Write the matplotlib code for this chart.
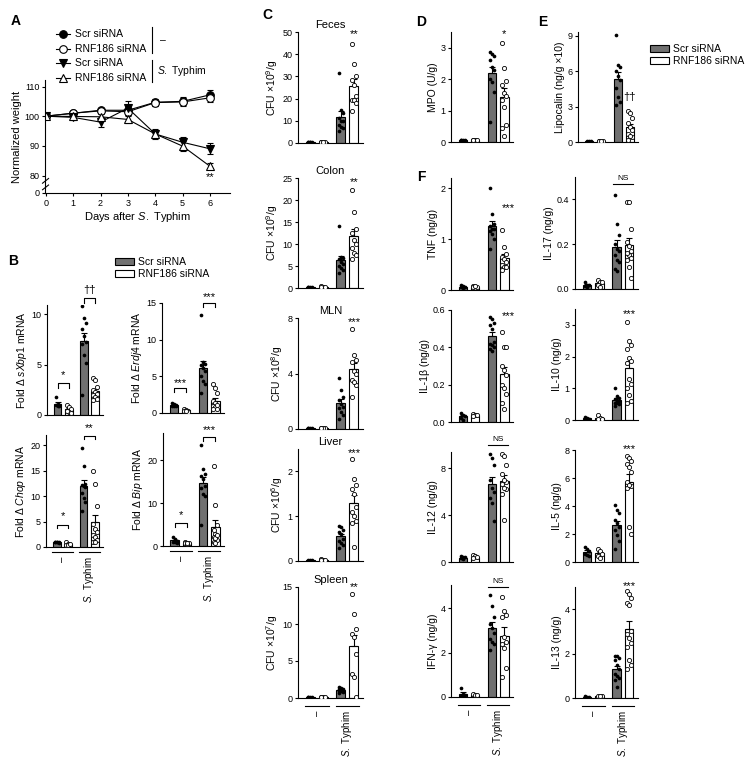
import numpy as np
import matplotlib
matplotlib.use("Agg")
import matplotlib.pyplot as plt
from matplotlib.patches import Patch

plt.rcParams['font.family'] = ['Liberation Sans', 'DejaVu Sans']
plt.rcParams['mathtext.fontset'] = 'custom'
plt.rcParams['mathtext.rm'] = 'Liberation Sans'
plt.rcParams['mathtext.it'] = 'Liberation Sans:italic'
plt.rcParams['font.size'] = 7
plt.rcParams['axes.linewidth'] = 0.8

# ---- panel A: body weight ----
days = [0, 1, 2, 3, 4, 5, 6]
wt_scr_mock = [100, 101, 102, 102, 104.7, 105, 107.2]
wt_rnf_mock = [100, 101, 101.8, 101.5, 104.6, 104.8, 106.2]
wt_scr_st = [100, 99.6, 98, 102.7, 94, 91.2, 89]
wt_rnf_st = [100, 99.9, 99.8, 98.9, 94, 89.9, 83.1]
err_scr_mock = [0, 0.6, 0.7, 1.2, 1.2, 1.3, 1.6]
err_rnf_mock = [0, 0.5, 0.6, 1.0, 1.0, 1.2, 1.3]
err_scr_st = [0, 0.8, 1.7, 2.4, 1.6, 1.8, 1.9]
err_rnf_st = [0, 0.6, 1.0, 1.3, 1.5, 1.6, 1.0]

# ---- panel B: UPR genes (Scr mock, RNF mock, Scr S.Tm, RNF S.Tm) ----
xbp1 = [[1.8, 1.0, 0.9, 1.0, 1.1, 0.9],
        [1.0, 0.8, 0.6, 0.3, 0.2, 0.4],
        [10.8, 9.6, 9.1, 8.5, 7.8, 7.2, 7.0, 5.9, 5.2, 2.0],
        [3.7, 3.5, 2.8, 2.5, 2.3, 2.1, 2.0, 1.8, 1.6, 1.5]]
erdj4 = [[1.3, 1.2, 1.1, 1.0, 1.0, 0.9],
         [0.6, 0.4, 0.3, 0.3, 0.2, 0.3],
         [13.4, 6.9, 6.7, 6.5, 6.2, 5.7, 5.0, 4.3, 3.9, 2.7],
         [3.9, 3.4, 2.7, 1.6, 1.3, 1.0, 0.8, 0.6, 0.5, 1.1]]
chop = [[1.0, 1.0, 0.9, 0.9, 0.8, 1.0],
        [0.9, 0.6, 0.4, 0.3, 0.5],
        [19.5, 15.9, 12.0, 12.4, 11.7, 10.7, 9.7, 8.8, 7.1, 12.2],
        [14.9, 12.3, 8.1, 4.5, 3.6, 3.0, 2.4, 1.9, 1.3, 1.0, 0.9]]
bip = [[2.2, 1.6, 1.2, 1.0, 0.8, 1.0],
       [0.9, 0.7, 0.6, 0.5, 0.8],
       [23.5, 17.9, 16.7, 16.3, 15.5, 13.5, 12.0, 11.6, 4.9, 14.0],
       [18.7, 9.6, 4.9, 3.7, 2.9, 2.1, 1.3, 0.9, 1.8, 2.5, 0.8]]

# ---- panel C: bacterial load ----
feces = [[0.6, 0.5, 0.4, 0.5, 0.6], [0.6, 0.5, 0.5, 0.6],
         [31.6, 15, 13.4, 11.2, 9.7, 8.2, 6.7, 5.2, 10, 7],
         [44.8, 35.5, 30.1, 28.4, 26.1, 21, 19.5, 19.4, 14.2, 18]]
colon = [[0.2, 0.2, 0.3, 0.2], [0.3, 0.3, 0.4, 0.2],
         [14.2, 7.0, 6.8, 6.5, 6.0, 5.5, 5.0, 4.5, 3.5, 4.0],
         [22.3, 17.3, 13.5, 12.5, 11.0, 10.0, 9.0, 8.0, 7.5, 6.5]]
mln = [[0.06, 0.05, 0.04, 0.05], [0.08, 0.07, 0.09, 0.1],
       [3.64, 2.8, 2.3, 2.1, 1.8, 1.5, 1.2, 1.0, 0.7, 1.6],
       [7.2, 5.3, 5.0, 4.8, 4.2, 4.0, 3.5, 3.2, 2.3, 3.4]]
liver = [[0.02, 0.03, 0.02, 0.01], [0.03, 0.04, 0.03, 0.02],
         [0.79, 0.75, 0.7, 0.6, 0.5, 0.4, 0.35, 0.3, 0.65, 0.45],
         [2.27, 1.84, 1.7, 1.6, 1.5, 1.2, 1.0, 1.1, 0.85, 0.32, 0.9]]
spleen = [[0.1, 0.1, 0.15, 0.1], [0.15, 0.2, 0.15, 0.1],
          [1.5, 1.3, 1.2, 1.1, 1.0, 0.9, 0.8, 0.7, 1.0, 1.2],
          [14.1, 11.4, 9.3, 8.7, 8.2, 5.9, 3.2, 2.8, 0.2]]

# ---- panels D, E ----
mpo = [[0.06, 0.05, 0.05, 0.04, 0.05], [0.06, 0.07, 0.05, 0.06],
       [2.85, 2.8, 2.75, 2.6, 2.4, 2.3, 2.0, 1.6, 0.65, 1.9],
       [3.14, 2.37, 1.95, 1.8, 1.55, 1.45, 1.35, 1.1, 0.55, 0.45, 0.2]]
lipocalin = [[0.05, 0.06, 0.04, 0.05], [0.08, 0.1, 0.07, 0.09],
             [9.05, 6.5, 6.3, 6.0, 5.6, 5.2, 4.6, 3.8, 3.4, 3.15],
             [2.6, 2.45, 2.0, 1.6, 1.3, 1.0, 0.7, 0.4, 0.2, 0.5]]

# ---- panel F: cytokines ----
tnf = [[0.1, 0.07, 0.05, 0.04, 0.06], [0.08, 0.06, 0.05, 0.07],
       [2.0, 1.5, 1.3, 1.25, 1.2, 1.1, 1.0, 0.8, 1.15, 1.2],
       [1.18, 0.84, 0.7, 0.65, 0.6, 0.55, 0.5, 0.45, 0.4, 0.45]]
il17 = [[0.03, 0.02, 0.015, 0.01, 0.02], [0.04, 0.03, 0.02, 0.01, 0.03],
        [0.42, 0.29, 0.24, 0.2, 0.17, 0.13, 0.12, 0.09, 0.08, 0.15, 0.18],
        [0.39, 0.39, 0.27, 0.21, 0.19, 0.17, 0.15, 0.13, 0.1, 0.05, 0.16, 0.14]]
il1b = [[0.05, 0.04, 0.03, 0.02, 0.01], [0.045, 0.04, 0.035, 0.03],
        [0.56, 0.55, 0.53, 0.52, 0.5, 0.43, 0.42, 0.4, 0.39, 0.41, 0.38],
        [0.48, 0.4, 0.4, 0.3, 0.28, 0.25, 0.2, 0.18, 0.15, 0.1, 0.07]]
il10 = [[0.08, 0.05, 0.03, 0.04], [0.15, 0.06, 0.03, 0.02],
        [1.0, 0.75, 0.7, 0.65, 0.6, 0.55, 0.5, 0.45, 0.55, 0.6],
        [3.1, 2.5, 2.35, 2.25, 1.95, 1.85, 1.8, 1.3, 1.15, 1.0, 0.8, 0.6, 0.55]]
il12 = [[0.5, 0.45, 0.4, 0.3, 0.25], [0.6, 0.55, 0.4, 0.3],
        [9.2, 8.9, 8.3, 7.0, 6.3, 6.0, 5.5, 5.0, 3.5],
        [9.2, 9.1, 8.3, 7.5, 6.2, 6.8, 7.0, 6.7, 6.3, 5.8, 3.6]]
il5 = [[1.1, 0.95, 0.8, 0.6, 0.5, 0.45], [0.95, 0.8, 0.6, 0.45, 0.3],
       [4.1, 3.7, 3.5, 3.0, 2.8, 2.5, 2.3, 1.9, 0.9, 1.5],
       [7.6, 7.4, 7.2, 7.0, 6.8, 6.4, 5.4, 5.3, 5.7, 5.5, 2.5, 2.0]]
ifng = [[0.4, 0.15, 0.08, 0.05, 0.05], [0.15, 0.1, 0.08],
        [4.6, 4.1, 3.6, 3.3, 3.1, 2.9, 2.6, 2.5, 2.4, 2.1],
        [4.5, 3.9, 3.7, 3.6, 2.4, 2.7, 2.5, 2.2, 1.3, 0.9]]
il13 = [[0.07, 0.06, 0.05, 0.04], [0.1, 0.08, 0.09],
        [1.9, 1.9, 1.8, 1.7, 1.5, 1.3, 1.1, 0.9, 0.5, 0.8, 1.0],
        [4.8, 4.7, 4.5, 4.3, 4.2, 3.0, 2.9, 2.7, 2.5, 2.3, 1.7, 1.3, 1.5]]

W, H = 754, 763
fig = plt.figure(figsize=(W / 100, H / 100), dpi=100)
GRAY = '#707070'
pos = np.array([0, 1, 2.35, 3.35])


def px_axes(l, r, b, t):
    return fig.add_axes([l / W, 1 - b / H, (r - l) / W, (b - t) / H])


def style(ax):
    for s in ['top', 'right']:
        ax.spines[s].set_visible(False)
    ax.tick_params(axis='y', length=2.5, width=0.8, pad=1.5, labelsize=6.5)


def bar_panel(ax, groups, ylim, yticks, ylabel, xlim=(-0.95, 4.05)):
    for i, vals in enumerate(groups):
        vals = np.asarray(vals, dtype=float)
        m = vals.mean()
        s = vals.std(ddof=1) / np.sqrt(len(vals))
        scr = i % 2 == 0
        ax.bar(pos[i], m, width=0.68, color=GRAY if scr else 'white',
               edgecolor='black', lw=0.8, zorder=1)
        ax.errorbar(pos[i], m, yerr=[[0], [s]], color='black', capsize=2,
                    lw=0.8, capthick=0.8, zorder=2)
        order = np.argsort(-vals)
        jit = np.zeros(len(vals))
        jit[order] = ((np.arange(len(vals)) % 3) - 1) * 0.16
        if scr:
            ax.scatter(pos[i] + jit, vals, s=7, c='black', lw=0, zorder=3)
        else:
            ax.scatter(pos[i] + jit, vals, s=9, facecolors='white',
                       edgecolors='black', lw=0.6, zorder=3)
    ax.set_xlim(*xlim)
    ax.set_ylim(*ylim)
    ax.set_yticks(yticks)
    ax.set_xticks([])
    ax.set_ylabel(ylabel, fontsize=7.5, labelpad=2)
    style(ax)


def sig(ax, text, i, y, size=8):
    ax.text(pos[i], y, text, ha='center', va='center', fontsize=size,
            clip_on=False)


def bracket(ax, text, i, j, y, ty, h):
    ax.plot([pos[i], pos[i], pos[j], pos[j]], [y - h, y, y, y - h],
            color='black', lw=0.8, clip_on=False)
    ax.text((pos[i] + pos[j]) / 2, ty, text, ha='center', va='center',
            fontsize=8, clip_on=False)


def ns_line(ax, y, ty):
    ax.plot([pos[2] - 0.3, pos[3] + 0.3], [y, y], color='black', lw=0.8,
            clip_on=False)
    ax.text((pos[2] + pos[3]) / 2, ty, 'NS', ha='center', va='center',
            fontsize=6, clip_on=False)


def group_labels(ax, dy):
    tr = ax.get_xaxis_transform()
    for a, b, lab in [(0, 1, '–'), (2, 3, r'$\it{S.}$ Typhim')]:
        ax.plot([pos[a] - 0.4, pos[b] + 0.4], [-dy, -dy], color='black',
                lw=0.8, transform=tr, clip_on=False)
        ax.text((pos[a] + pos[b]) / 2, -dy - 0.04, lab, rotation=90,
                ha='center', va='top', fontsize=7, transform=tr)


# ---------- A ----------
axA = px_axes(45, 230, 193, 80)
axA.patch.set_alpha(0)
for y, e, mk, fc in [(wt_scr_mock, err_scr_mock, 'o', 'black'),
                     (wt_rnf_mock, err_rnf_mock, 'o', 'white'),
                     (wt_scr_st, err_scr_st, 'v', 'black'),
                     (wt_rnf_st, err_rnf_st, '^', 'white')]:
    axA.errorbar(days, y, yerr=e, marker=mk, ms=5.5, mfc=fc, mec='black',
                 mew=0.8, color='black', lw=0.8, capsize=2, elinewidth=0.8)
axA.set_xlim(-0.03, 6.73)
axA.set_ylim(74.1, 112.2)
axA.set_xticks(days)
axA.set_yticks([74.1, 80, 90, 100, 110])
axA.set_yticklabels(['0', '80', '90', '100', '110'])
axA.set_ylabel('Normalized weight', fontsize=8, labelpad=2)
axA.set_xlabel(r'Days after $\it{S.}$ Typhim', fontsize=8, labelpad=1.5)
style(axA)
axA.tick_params(axis='x', length=2.5, width=0.8, pad=1.5, labelsize=6.5)
for yb in [76.0, 78.2]:
    axA.plot([-0.12, 0.1], [yb - 0.8, yb + 0.8], color='black', lw=0.8,
             clip_on=False)
axA.text(6, 79.3, '**', ha='center', va='center', fontsize=8)

# ---------- B ----------
axB1 = px_axes(47, 103, 415, 305)
bar_panel(axB1, xbp1, (0, 10.9), [0, 5, 10], r'Fold Δ $\it{sXbp1}$ mRNA')
bracket(axB1, '*', 0, 1, 3.2, 4.0, 0.5)
bracket(axB1, '††', 2, 3, 11.6, 12.4, 0.5)

axB2 = px_axes(162, 224, 413, 303)
bar_panel(axB2, erdj4, (0, 15), [0, 5, 10, 15], r'Fold Δ $\it{Erdj4}$ mRNA')
bracket(axB2, '***', 0, 1, 3.4, 4.1, 0.6)
bracket(axB2, '***', 2, 3, 15.0, 15.8, 0.6)

axB3 = px_axes(46, 103, 547, 435)
bar_panel(axB3, chop, (0, 22), [0, 5, 10, 15, 20], r'Fold Δ $\it{Chop}$ mRNA')
bracket(axB3, '*', 0, 1, 4.4, 6.0, 0.7)
bracket(axB3, '**', 2, 3, 21.9, 23.4, 0.7)
group_labels(axB3, 0.045)

axB4 = px_axes(163, 224, 546, 433)
bar_panel(axB4, bip, (0, 26.3), [0, 10, 20], r'Fold Δ $\it{Bip}$ mRNA')
bracket(axB4, '*', 0, 1, 5.3, 7.2, 0.8)
bracket(axB4, '***', 2, 3, 25.3, 27.0, 0.8)
group_labels(axB4, 0.045)

# ---------- C ----------
axC1 = px_axes(298, 363, 143, 32)
bar_panel(axC1, feces, (0, 50), [0, 10, 20, 30, 40, 50], 'CFU ×10$^9$/g')
axC1.set_title('Feces', fontsize=8, pad=3)
sig(axC1, '**', 3, 49.0)

axC2 = px_axes(298, 363, 288, 178)
bar_panel(axC2, colon, (0, 25), [0, 5, 10, 15, 20, 25], 'CFU ×10$^9$/g')
axC2.set_title('Colon', fontsize=8, pad=3)
sig(axC2, '**', 3, 24.0)

axC3 = px_axes(298, 363, 429, 318)
bar_panel(axC3, mln, (0, 8), [0, 4, 8], 'CFU ×10$^8$/g')
axC3.set_title('MLN', fontsize=8, pad=3)
sig(axC3, '***', 3, 7.7)

axC4 = px_axes(298, 363, 561, 449)
bar_panel(axC4, liver, (0, 2.5), [0, 1, 2], 'CFU ×10$^6$/g')
axC4.set_title('Liver', fontsize=8, pad=3)
sig(axC4, '***', 3, 2.42)

axC5 = px_axes(298, 363, 698, 587)
bar_panel(axC5, spleen, (0, 15), [0, 5, 10, 15], 'CFU ×10$^7$/g')
axC5.set_title('Spleen', fontsize=8, pad=3)
sig(axC5, '**', 3, 15.0)
group_labels(axC5, 0.072)

# ---------- D / E ----------
axD = px_axes(451, 513, 142, 32)
bar_panel(axD, mpo, (0, 3.5), [0, 1, 2, 3], 'MPO (U/g)')
sig(axD, '*', 3, 3.42)

axE = px_axes(578, 638, 142, 32)
bar_panel(axE, lipocalin, (0, 9.3), [0, 3, 6, 9], 'Lipocalin (ng/g ×10)')
sig(axE, '††', 3, 3.8)

# ---------- F ----------
axF1 = px_axes(451, 513, 290, 178)
bar_panel(axF1, tnf, (0, 2.2), [0, 1, 2], 'TNF (ng/g)')
axF1.text(pos[3] + 0.3, 1.6, '***', ha='center', va='center', fontsize=8)

axF2 = px_axes(575, 638, 289, 177)
bar_panel(axF2, il17, (0, 0.5), [0.0, 0.2, 0.4], 'IL-17 (ng/g)')
axF2.set_yticklabels(['0.0', '0.2', '0.4'])
ns_line(axF2, 0.468, 0.495)

axF3 = px_axes(451, 513, 422, 310)
bar_panel(axF3, il1b, (0, 0.6), [0.0, 0.2, 0.4, 0.6], 'IL-1β (ng/g)')
axF3.set_yticklabels(['0.0', '0.2', '0.4', '0.6'])
axF3.text(pos[3] + 0.3, 0.57, '***', ha='center', va='center', fontsize=8)

axF4 = px_axes(575, 638, 420, 309)
bar_panel(axF4, il10, (0, 3.5), [0, 1, 2, 3], 'IL-10 (ng/g)')
sig(axF4, '***', 3, 3.35)

axF5 = px_axes(451, 513, 562, 452)
bar_panel(axF5, il12, (0, 9.4), [0, 4, 8], 'IL-12 (ng/g)')
ns_line(axF5, 10.0, 10.5)

axF6 = px_axes(575, 638, 562, 450)
bar_panel(axF6, il5, (0, 8.0), [0, 2, 4, 6, 8], 'IL-5 (ng/g)')
sig(axF6, '***', 3, 8.1)

axF7 = px_axes(451, 513, 697, 585)
bar_panel(axF7, ifng, (0, 5.05), [0, 2, 4], 'IFN-γ (ng/g)')
ns_line(axF7, 4.95, 5.2)
group_labels(axF7, 0.072)

axF8 = px_axes(575, 638, 698, 587)
bar_panel(axF8, il13, (0, 5.0), [0, 2, 4], 'IL-13 (ng/g)')
sig(axF8, '***', 3, 5.05)
group_labels(axF8, 0.072)

# ---------- legends / overlay ----------
ov = fig.add_axes([0, 0, 1, 1], zorder=10)
ov.set_xlim(0, W)
ov.set_ylim(H, 0)
ov.axis('off')

leg_labels = ['Scr siRNA', 'RNF186 siRNA', 'Scr siRNA', 'RNF186 siRNA']
leg_marks = [('o', 'black'), ('o', 'white'), ('v', 'black'), ('^', 'white')]
for k, (lab, (mk, fc)) in enumerate(zip(leg_labels, leg_marks)):
    yy = 34 + k * 14.7
    ov.plot([56, 70], [yy, yy], color='black', lw=0.8)
    ov.plot([63], [yy], marker=mk, ms=5.5, mfc=fc, mec='black', mew=0.8)
    ov.text(75, yy, lab, va='center', ha='left', fontsize=7.5)
ov.plot([152, 152], [27, 53], color='black', lw=0.8)
ov.plot([152, 152], [60, 82], color='black', lw=0.8)
ov.text(160, 40, '–', va='center', ha='left', fontsize=7.5)
ov.text(157, 71, r'$\it{S.}$ Typhim', va='center', ha='left', fontsize=7.5)

bar_handles = [Patch(facecolor=GRAY, edgecolor='black', lw=0.8),
               Patch(facecolor='white', edgecolor='black', lw=0.8)]
for bx, by in [(110, 252), (645, 39)]:
    fig.legend(bar_handles, ['Scr siRNA', 'RNF186 siRNA'], loc='upper left',
               bbox_to_anchor=(bx / W, 1 - by / H), frameon=False,
               fontsize=7.5, handlelength=1.8, handleheight=0.55,
               handletextpad=0.35, labelspacing=0.2, borderpad=0)

for lab, x, y in [('A', 16, 21), ('B', 13, 261), ('C', 267, 15),
                  ('D', 421, 22), ('E', 543, 22), ('F', 421, 177)]:
    fig.text(x / W, 1 - y / H, lab, fontsize=10, fontweight='bold',
             ha='center', va='center')

fig.savefig('out.png', dpi=100)
